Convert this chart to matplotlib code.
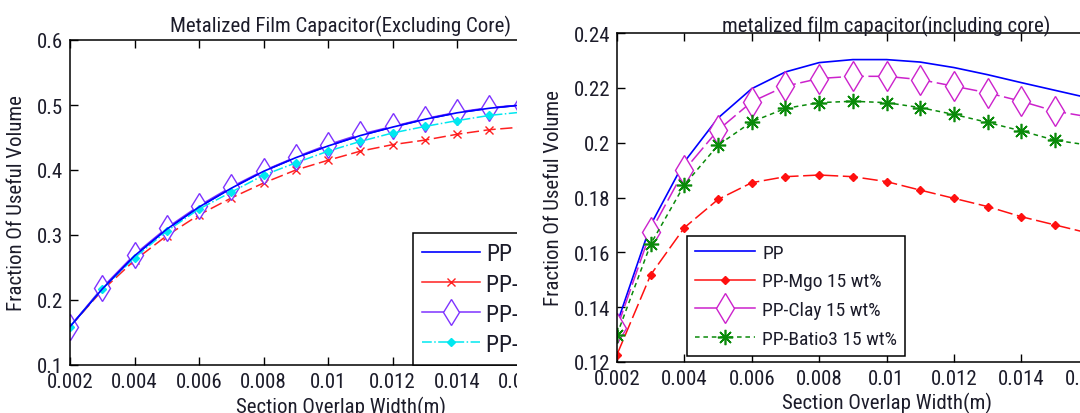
import matplotlib
matplotlib.use("Agg")
import matplotlib.pyplot as plt
from matplotlib import font_manager
from matplotlib.patches import Rectangle

# the reference uses a tall, narrow sans; pick a condensed face if there is one
avail = {f.name for f in font_manager.fontManager.ttflist}
narrow = next((n for n in ['Liberation Sans Narrow', 'Arial Narrow',
                           'Roboto Condensed', 'Open Sans Condensed']
               if n in avail), None)
if narrow:
    plt.rcParams['font.family'] = [narrow, 'DejaVu Sans']
    fs, lfs1, lfs2 = 15, 17, 14
else:
    plt.rcParams['font.family'] = ['Liberation Sans', 'DejaVu Sans']
    fs, lfs1, lfs2 = 13, 14, 12

# section overlap width (m)
width_m = [0.002, 0.003, 0.004, 0.005, 0.006, 0.007, 0.008, 0.009,
           0.010, 0.011, 0.012, 0.013, 0.014, 0.015, 0.016]

# excluding core
ex_pp = [0.159, 0.217, 0.268, 0.309, 0.343, 0.372, 0.398, 0.419,
         0.437, 0.453, 0.466, 0.478, 0.488, 0.495, 0.500]
ex_mgo = [0.159, 0.215, 0.261, 0.299, 0.331, 0.357, 0.380, 0.400,
          0.415, 0.429, 0.439, 0.446, 0.455, 0.462, 0.466]
ex_clay = [0.159, 0.219, 0.270, 0.311, 0.345, 0.374, 0.399, 0.420,
           0.439, 0.455, 0.467, 0.479, 0.489, 0.496, 0.500]
ex_batio3 = [0.159, 0.217, 0.265, 0.306, 0.340, 0.366, 0.392, 0.411,
             0.429, 0.444, 0.457, 0.467, 0.476, 0.484, 0.489]

# including core
in_pp = [0.134, 0.170, 0.193, 0.209, 0.2197, 0.2258, 0.2292, 0.2303,
         0.2303, 0.2294, 0.2274, 0.2248, 0.2219, 0.2191, 0.2163]
in_mgo = [0.1227, 0.1518, 0.169, 0.1793, 0.1854, 0.1876, 0.1882, 0.1876,
          0.1858, 0.1827, 0.1797, 0.1767, 0.173, 0.170, 0.167]
in_clay = [0.1324, 0.1675, 0.190, 0.2046, 0.2149, 0.2206, 0.2234, 0.2242,
           0.2242, 0.223, 0.2206, 0.2182, 0.2151, 0.2115, 0.2094]
in_batio3 = [0.130, 0.163, 0.1846, 0.1991, 0.2076, 0.2125, 0.2146, 0.2151,
             0.2146, 0.2128, 0.2103, 0.2074, 0.2043, 0.2009, 0.1991]

labels = ['PP', 'PP-Mgo 15 wt%', 'PP-Clay 15 wt%', 'PP-Batio3 15 wt%']
xticks = [0.002, 0.004, 0.006, 0.008, 0.01, 0.012, 0.014, 0.016, 0.018]

W, H = 1080, 414
fig = plt.figure(figsize=(W / 100, H / 100), dpi=100)
txt = '#1c1c2a'


def style_axes(ax, yticks):
    ax.set_xticks(xticks)
    ax.set_xticklabels([f'{v:g}' for v in xticks])
    ax.set_yticks(yticks)
    ax.set_yticklabels([f'{v:g}' for v in yticks])
    ax.tick_params(direction='in', top=True, right=True, length=6, width=1,
                   labelsize=fs, labelcolor=txt, pad=5)
    ax.spines['right'].set_visible(False)
    for s in ax.spines.values():
        s.set_linewidth(1.1)
    ax.set_xlabel('Section Overlap Width(m)', fontsize=fs, color=txt)
    ax.set_ylabel('Fraction Of Useful Volume', fontsize=fs, color=txt)


def style_legend(leg, styles):
    leg.get_frame().set_linewidth(1.1)
    for t in leg.get_texts():
        t.set_color(txt)
    for ln, ls in zip(leg.get_lines(), styles):
        ln.set_linestyle(ls)


# left panel (cropped on the right)
ax1 = fig.add_axes([70 / W, (H - 366) / H, 542 / W, 325 / H], zorder=0)
ax1.plot(width_m, ex_pp, color='#0000ff', lw=1.2, label=labels[0])
ax1.plot(width_m, ex_mgo, color='#ff2020', lw=1.1, dashes=(8, 3),
         marker='x', ms=6, mew=1, label=labels[1])
ax1.plot(width_m, ex_clay, color='#7f33ff', lw=1.1, marker='d', ms=13,
         mfc='white', mew=1, label=labels[2])
ax1.plot(width_m, ex_batio3, color='#00e8f0', lw=1.1, ls='-.', marker='D',
         ms=4.5, label=labels[3])
ax1.plot(width_m, ex_pp, color='#0000ff', lw=1.2)
ax1.set_xlim(0.002, 0.0188)
ax1.set_ylim(0.1, 0.6)
style_axes(ax1, [0.1, 0.2, 0.3, 0.4, 0.5, 0.6])
ax1.set_title('Metalized Film Capacitor(Excluding Core)', fontsize=fs,
              color=txt, pad=6)
ax1.xaxis.set_label_coords(0.5, -0.095)
ax1.yaxis.set_label_coords(-0.081, 0.5)
leg1 = ax1.legend(loc='upper left', bbox_to_anchor=(413 / W, 1 - 234 / H),
                  bbox_transform=fig.transFigure, borderaxespad=0,
                  fontsize=lfs1, handlelength=2.45, handletextpad=0.25,
                  labelspacing=0.3, fancybox=False, edgecolor='black',
                  framealpha=1)
style_legend(leg1, ['-', '-', '-', '-.'])

# white strip hiding the cropped part of the left panel
fig.patches.append(Rectangle((517 / W, 0), 1, 1, transform=fig.transFigure,
                             facecolor='white', edgecolor='none', zorder=1))

# right panel (cropped on the right)
ax2 = fig.add_axes([617 / W, (H - 363) / H, 539 / W, 329 / H], zorder=2)
ax2.plot(width_m, in_pp, color='#0000ff', lw=1.2, label=labels[0])
ax2.plot(width_m, in_mgo, color='#ff1010', lw=1.1, dashes=(10, 3),
         marker='D', ms=4, label=labels[1])
ax2.plot(width_m, in_clay, color='#cc22cc', lw=1.1, dashes=(12, 3),
         marker='d', ms=15, mfc='white', mew=1, label=labels[2])
ax2.plot(width_m, in_batio3, color='#0a8a0a', lw=1.1, dashes=(3, 2.5),
         marker=(8, 2, 0), ms=11, mew=1.2, label=labels[3])
ax2.set_xlim(0.002, 0.018)
ax2.set_ylim(0.12, 0.24)
style_axes(ax2, [0.12, 0.14, 0.16, 0.18, 0.2, 0.22, 0.24])
ax2.set_title('metalized film capacitor(including core)', fontsize=fs,
              color=txt, pad=1)
ax2.xaxis.set_label_coords(0.5, -0.091)
ax2.yaxis.set_label_coords(-0.1, 0.5)
leg2 = ax2.legend(loc='upper left', bbox_to_anchor=(687 / W, 1 - 237 / H),
                  bbox_transform=fig.transFigure, borderaxespad=0,
                  fontsize=lfs2, handlelength=3.1, handletextpad=0.36,
                  labelspacing=0.55, fancybox=False, edgecolor='black',
                  framealpha=1)
style_legend(leg2, ['-', '-', '-', (0, (3, 2.5))])

fig.savefig('out.png', dpi=100)
